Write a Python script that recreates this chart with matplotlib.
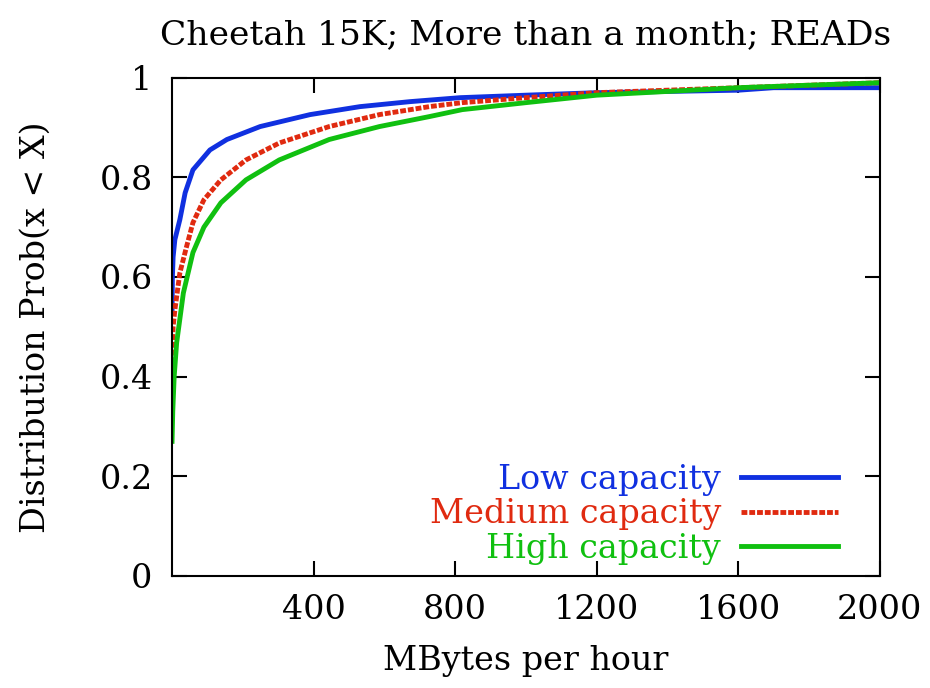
import matplotlib
matplotlib.use("Agg")
import matplotlib.pyplot as plt

# values
low_x = [0, 1, 3, 8, 22, 37, 59, 107, 155, 249, 390, 531, 672, 814, 1000, 1200, 1600, 1700, 2000]
low_y = [0.53, 0.60, 0.64, 0.675, 0.715, 0.769, 0.815, 0.855, 0.876, 0.902, 0.926, 0.942, 0.952, 0.96, 0.965, 0.97, 0.975, 0.98, 0.98]

med_x = [0, 1, 3, 8, 22, 41, 59, 90, 138, 209, 303, 444, 586, 727, 820, 1000, 1200, 1600, 2000]
med_y = [0.38, 0.45, 0.50, 0.534, 0.608, 0.661, 0.709, 0.755, 0.795, 0.835, 0.869, 0.902, 0.926, 0.942, 0.95, 0.96, 0.97, 0.98, 0.99]

high_x = [0, 2, 6, 13, 32, 59, 90, 138, 209, 303, 444, 586, 727, 820, 1000, 1200, 1600, 2000]
high_y = [0.27, 0.33, 0.40, 0.468, 0.568, 0.649, 0.70, 0.749, 0.795, 0.835, 0.876, 0.902, 0.922, 0.936, 0.95, 0.965, 0.98, 0.99]

xticks = [400, 800, 1200, 1600, 2000]
yticks = [0, 0.2, 0.4, 0.6, 0.8, 1]
ylabels = ["0", "0.2", "0.4", "0.6", "0.8", "1"]

plt.rcParams['font.family'] = ['DejaVu Serif']
fs = 24

fig = plt.figure(figsize=(9.3, 6.88), dpi=100)
ax = fig.add_axes([0.185, 0.163, 0.761, 0.724])

ax.plot(low_x, low_y, color='#1030e0', lw=3.5, label='Low capacity')
ax.plot(med_x, med_y, color='#e02a10', lw=3.5, ls=(0, (1.2, 0.4)), label='Medium capacity')
ax.plot(high_x, high_y, color='#10c010', lw=3.5, label='High capacity')

ax.set_xlim(0, 2000)
ax.set_ylim(0, 1)
ax.set_xticks(xticks)
ax.set_xticklabels([str(v) for v in xticks])
ax.set_yticks(yticks)
ax.set_yticklabels(ylabels)
ax.tick_params(direction='in', length=11, width=1.5, top=True, right=True,
               labelsize=fs)
ax.tick_params(axis='x', pad=13)
ax.tick_params(axis='y', pad=14)
for s in ax.spines.values():
    s.set_linewidth(1.5)

ax.set_xlabel('MBytes per hour', fontsize=fs, labelpad=14)
ax.set_ylabel('Distribution Prob(x < X)', fontsize=fs, labelpad=34)
ax.set_title('Cheetah 15K; More than a month; READs', fontsize=24.8, pad=24)

leg = ax.legend(loc='lower right', bbox_to_anchor=(1 - 22 / 708, -9 / 498),
                frameon=False, markerfirst=False,
                fontsize=fs, handlelength=2.9, labelspacing=0.08,
                handletextpad=0.6, borderaxespad=0.2, labelcolor='linecolor')
for t in leg.get_texts():
    t.set_ha('right')

fig.savefig('out.png', dpi=100)
